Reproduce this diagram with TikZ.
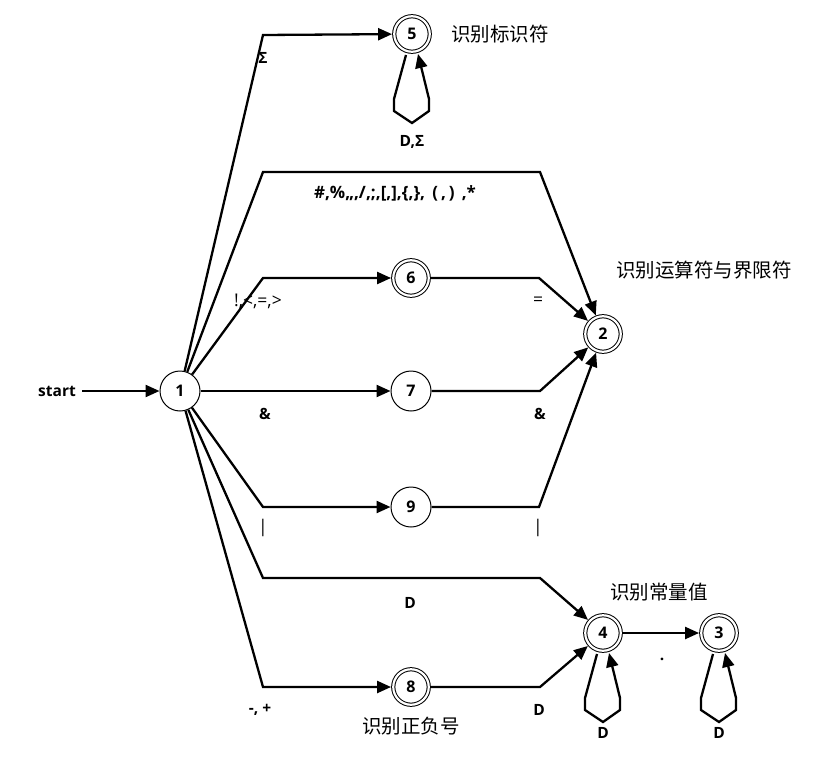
\documentclass[tikz,border=0pt]{standalone}
\usepackage{fontspec}
\setmainfont{Open Sans}
\newfontfamily\cjk{Noto Sans CJK SC}
\usetikzlibrary{arrows.meta,calc}
\begin{document}
\begin{tikzpicture}[x=1pt,y=-1pt,
  state/.style={circle,draw,line width=1pt,minimum size=40pt,inner sep=0pt,font=\fontsize{16}{16}\selectfont\bfseries},
  acc/.style={state,double,double distance=2.2pt,minimum size=35.5pt,outer sep=2.2pt},
  edge/.style={line width=2.3pt,-{Triangle[length=14pt,width=12pt]}},
  lab/.style={font=\fontsize{15.5}{15.5}\selectfont\bfseries,inner sep=1pt},
  labr/.style={font=\fontsize{17.5}{17.5}\selectfont,inner sep=1pt},
  cn/.style={font=\cjk\fontsize{19.5}{19.5}\selectfont,inner sep=0pt}]
\useasboundingbox (0,0) rectangle (818,762);
% states
\node[state] (n1) at (180,391) {1};
\node[acc] (n5) at (412,34) {5};
\node[acc] (n6) at (411,278) {6};
\node[acc] (n2) at (603,334) {2};
\node[state] (n7) at (411,391) {7};
\node[state] (n9) at (411,507) {9};
\node[acc] (n4) at (603,633) {4};
\node[acc] (n3) at (719,633) {3};
\node[acc] (n8) at (411,687) {8};
% start
\node[lab] (st) at (57,391) {start};
\coordinate (st0) at (82,391);
\draw[edge] (st0) -- (n1);
% bend points
\coordinate (b5) at (263,35);
\coordinate (bta) at (263,172);
\coordinate (btb) at (540,172);
\coordinate (b6a) at (263,278);
\coordinate (b6b) at (539,278);
\coordinate (b7b) at (540,391);
\coordinate (b9a) at (263,507);
\coordinate (b9b) at (539,507);
\coordinate (bda) at (263,578);
\coordinate (bdb) at (540,578);
\coordinate (b8a) at (263,687);
\coordinate (b8b) at (540,687);
% edges
\draw[edge] (n1) -- (b5) -- (n5);
\draw[edge] (n1) -- (bta) -- (btb) -- (n2);
\draw[edge] (n1) -- (b6a) -- (n6);
\draw[edge] (n6) -- (b6b) -- (n2);
\draw[edge] (n1) -- (n7);
\draw[edge] (n7) -- (b7b) -- (n2);
\draw[edge] (n1) -- (b9a) -- (n9);
\draw[edge] (n9) -- (b9b) -- (n2);
\draw[edge] (n1) -- (bda) -- (bdb) -- (n4);
\draw[edge] (n1) -- (b8a) -- (n8);
\draw[edge] (n8) -- (b8b) -- (n4);
\draw[edge] (n4) -- (n3);
% loops
\foreach \n in {n5,n4,n3}{
  \draw[edge] ($(\n)+(-6,21)$) -- ($(\n)+(-18,65)$) -- ($(\n)+(-18,77)$) -- ($(\n)+(0,89)$) -- ($(\n)+(17,77)$) -- ($(\n)+(17,65)$) -- ($(\n)+(6,20)$);
}
% labels
\node[lab] (l5) at (263,58) {Σ};
\node[lab] (l5s) at (412,142) {D,Σ};
\node[lab,font=\fontsize{17}{17}\selectfont\bfseries] (lt) at (395,193) {\#,\%,,,/,;,[,],\{,\},\ \,(\,,\,)\ \,,*};
\node[labr] (l6a) at (258,301) {!,<,=,>};
\node[labr] (l6b) at (538,301) {=};
\node[lab] (l7a) at (265,414) {\&};
\node[lab] (l7b) at (540,414) {\&};
\node[labr] (l9a) at (263,528) {|};
\node[labr] (l9b) at (538,528) {|};
\node[lab] (ld) at (410,603) {D};
\node[lab] (l8a) at (260,710) {-, +};
\node[lab] (l8b) at (539,710) {D};
\node[lab] (l43) at (662,659) {.};
\node[lab] (l4s) at (603,733) {D};
\node[lab] (l3s) at (719,733) {D};
% Chinese annotations
\node[cn] (c5) at (500,34) {识别标识符};
\node[cn] (c2) at (704,270) {识别运算符与界限符};
\node[cn] (c4) at (659,592) {识别常量值};
\node[cn] (c8) at (411,726) {识别正负号};
\end{tikzpicture}
\end{document}
